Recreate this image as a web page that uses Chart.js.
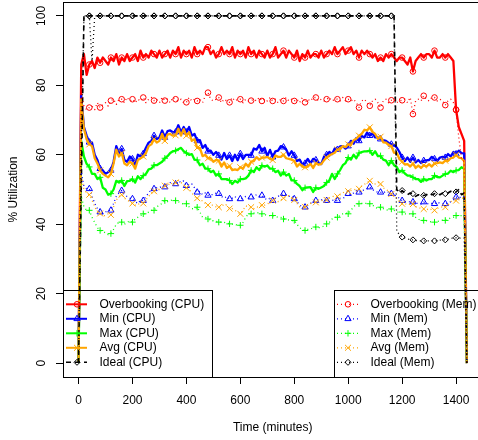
<!DOCTYPE html>
<html>
<head>
<meta charset="utf-8">
<script src="https://cdn.jsdelivr.net/npm/chart.js@4.4.0/dist/chart.umd.min.js"></script>
<style>
  html, body { margin: 0; padding: 0; background: #fff; overflow: hidden; }
  #wrap { width: 478px; height: 440px; overflow: hidden; }
</style>
</head>
<body>
<div id="wrap"><canvas id="chart" width="486" height="440"></canvas></div>
<script>
// one sample every 10 minutes, 0..1440
const ovCpu = [
  0, 86, 89, 83, 86, 87, 85, 88, 86.5, 88,
  87, 86, 88, 87, 89, 86, 88, 87, 89, 87,
  88, 89, 87, 90, 88, 89, 88, 90, 89, 88,
  90, 88, 89, 90, 88, 90, 89, 91, 88, 90,
  89, 90, 88, 91, 89, 90, 89, 91, 91, 89,
  90, 88, 89, 91, 89, 90, 89, 91, 88, 90,
  89, 90, 88, 91, 89, 90, 88, 90, 89, 88,
  90, 88, 89, 91, 88, 89, 90, 88, 90, 89,
  88, 90, 87, 89, 88, 90, 88, 89, 89, 88,
  90, 88, 89, 90, 89, 91, 89, 90, 91, 89,
  90, 91, 89, 90, 88, 90, 89, 90, 89, 88,
  89, 87, 88, 87, 89, 88, 89, 88, 87, 88,
  88, 87, 86, 88, 84, 87, 88, 89, 88, 89,
  89, 88, 90, 88, 88, 89, 88, 89, 88, 87,
  73, 68, 66, 64, 0
];
const minCpu = [
  0, 77, 68, 65.5, 63.6, 63.5, 60, 58.5, 56, 55.5,
  54.5, 55, 55.5, 58, 62.5, 60.5, 61.7, 58.5, 58, 59.5,
  58.8, 57, 60, 59.5, 60.3, 62, 63.5, 64, 65.5, 64.5,
  65, 67, 65, 66.8, 67, 66.5, 66.5, 68.5, 66.5, 68,
  66.5, 68, 65.5, 66, 64, 64.2, 62, 62.8, 61, 61.2,
  60, 60.8, 59.8, 58.6, 60.5, 58.8, 59.8, 58.2, 60, 58.4,
  60.3, 58.8, 60, 60, 59.8, 61.8, 61.5, 62.8, 61, 62,
  59.6, 61.4, 59.3, 61, 61.2, 62.5, 62.2, 61.5, 59.8, 61,
  59.8, 58.2, 58.6, 57.2, 57.5, 58.8, 57.5, 58.8, 58.5, 57.6,
  57.3, 59.4, 60, 60.8, 60.2, 61.8, 61.5, 62.4, 62.5, 61.8,
  62.5, 64, 63.2, 64.8, 64, 65.4, 65, 66.4, 65.5, 66.2,
  65, 65, 64.5, 64.2, 64, 63.4, 63, 62.8, 62.1, 60.8,
  59.2, 58.2, 59.2, 58, 59.2, 57.8, 58.5, 57.6, 58.3, 58.4,
  58.5, 59.4, 58.8, 58.2, 59.2, 59.4, 59.2, 60.2, 59.5, 60.8,
  60.2, 61.2, 60.5, 60.4, 0
];
const maxCpu = [
  0, 64, 59.5, 57.4, 56.5, 54.5, 54.5, 53, 53.5, 50.5,
  50, 48.5, 48.8, 50, 52.5, 52, 52.6, 51, 52.4, 52.5,
  53, 52, 53.8, 53, 54, 54.5, 55.8, 56, 57, 57,
  57.5, 58, 59, 59.6, 60.5, 61, 61.2, 61.6, 62, 61,
  60.5, 60, 60.2, 58.6, 58.5, 57, 57.4, 56, 56, 55,
  55.4, 54, 54.5, 53, 53, 53, 52.6, 51.6, 52.5, 52,
  53, 53, 53.2, 54, 55.5, 55, 56.4, 55.6, 56.9, 56.6,
  56.9, 56, 56, 55, 55.4, 54, 55, 54, 54.5, 52.6,
  52.6, 51.6, 51, 49.8, 50.5, 50.6, 50.7, 49.3, 50.5, 50.2,
  50.6, 51, 52, 52.6, 54.5, 53, 54.5, 55.6, 57, 57.6,
  59.2, 58.6, 60, 59, 60.5, 60.8, 61, 61, 61.2, 60,
  61, 59.6, 59.7, 58.6, 58.3, 57, 58.3, 57, 56.5, 55,
  55.5, 54.6, 54, 54, 53.5, 53, 53, 52.2, 53, 52.6,
  53, 53, 54, 53.6, 53.5, 54, 54.5, 54.6, 55.4, 55,
  55.5, 55.6, 56.4, 56, 0
];
const avgCpu = [
  0, 76, 67.5, 64.5, 63, 62.5, 59, 57.5, 55.5, 54.5,
  54, 53.5, 54.5, 57.5, 61.5, 59.5, 60.5, 57.5, 57, 58,
  57.5, 56, 58.5, 59, 59.5, 60.5, 62.5, 63, 64.5, 63.5,
  64, 66, 64, 65.8, 66, 65.5, 65.6, 67.5, 65.5, 67.4,
  65.5, 66.5, 64, 64.5, 62, 62, 59.6, 60, 59, 59,
  58, 58.5, 58.3, 56.6, 57.8, 56.2, 56.8, 55.6, 55.8, 55.6,
  56.4, 56, 57.4, 56.6, 58, 58.2, 59.3, 58.6, 59.2, 59.2,
  59.4, 58.8, 58.5, 59.8, 59.4, 59.4, 60, 59, 58.8, 58.6,
  58.2, 56.6, 57.4, 56.6, 56.4, 56.6, 57.4, 56.2, 57.6, 57.2,
  57.3, 58.4, 59.2, 59.8, 60.2, 60.6, 61.5, 61.6, 62.5, 62.2,
  63, 62.8, 64.2, 64.6, 65.5, 66, 67.2, 67, 67.9, 66.6,
  66, 64.6, 65.2, 63.6, 63.5, 62.8, 62.5, 60.6, 60.5, 58.8,
  58, 57.2, 57.3, 56.6, 57.5, 56.2, 56.9, 56.2, 57, 56.6,
  57.3, 56.6, 57.5, 57.6, 57.8, 57.6, 58.3, 58.2, 59, 59.2,
  60, 59.2, 59, 58.2, 0
];
const idealCpu = [
  0, 50, 100, 100, 100, 100, 100, 100, 100, 100,
  100, 100, 100, 100, 100, 100, 100, 100, 100, 100,
  100, 100, 100, 100, 100, 100, 100, 100, 100, 100,
  100, 100, 100, 100, 100, 100, 100, 100, 100, 100,
  100, 100, 100, 100, 100, 100, 100, 100, 100, 100,
  100, 100, 100, 100, 100, 100, 100, 100, 100, 100,
  100, 100, 100, 100, 100, 100, 100, 100, 100, 100,
  100, 100, 100, 100, 100, 100, 100, 100, 100, 100,
  100, 100, 100, 100, 100, 100, 100, 100, 100, 100,
  100, 100, 100, 100, 100, 100, 100, 100, 100, 100,
  100, 100, 100, 100, 100, 100, 100, 100, 100, 100,
  100, 100, 100, 100, 100, 100, 100, 100, 50, 49,
  49.7, 49, 48.5, 49, 48.8, 48, 48.5, 48, 48.3, 48.5,
  49, 48.5, 48.8, 49, 48.5, 49, 48.8, 49, 49.5, 49,
  49.3, 50, 48.5, 49, 0
];
const ovMem = [
  0, 78, 74, 73, 73.6, 74, 73, 75, 73.6, 74.5,
  75, 74, 75.6, 76, 74.5, 76, 76, 75, 76.5, 75.5,
  76, 75, 76, 75.5, 76.5, 75, 76, 76.5, 75.6, 76,
  75, 76.5, 75.6, 76, 75, 76.5, 76, 75.5, 76, 75,
  75.1, 76.5, 75.5, 76, 75.5, 76, 75, 77, 77.9, 76,
  75.5, 76, 76.5, 75, 76, 75.5, 75.1, 76.5, 75.5, 76,
  76, 75, 76, 75.5, 75.6, 76, 75.5, 76.5, 75.5, 76,
  75.5, 76.5, 75.5, 76, 75, 76, 75.5, 76.5, 75.5, 76,
  75.5, 76, 75, 76.5, 75.1, 76, 75.5, 76.5, 76.5, 75.5,
  76, 75.5, 76, 76.5, 75.5, 76, 76, 75.5, 76.5, 75.5,
  76, 75.5, 76, 75, 73.6, 75.5, 76, 75, 74.1, 75.5,
  76, 75, 73.6, 75.5, 76, 75, 75.7, 76, 75, 75.5,
  75.7, 76, 75, 76.5, 71.7, 75.5, 76, 75.5, 77, 76,
  75.5, 76.5, 76.5, 75.5, 76, 75.5, 74.3, 75.5, 76, 75,
  72.9, 65, 59, 58, 0
];
const minMem = [
  0, 55, 51, 50.2, 50.2, 48, 46, 44.5, 43.5, 43,
  43.5, 44, 44, 46, 48, 49, 49.7, 48.5, 48, 47.5,
  47.3, 46.5, 46, 47, 46.8, 48, 49, 50, 50.2, 50.5,
  50.5, 51, 50.7, 51.5, 52, 51.5, 51.6, 52.5, 52, 52.5,
  51.1, 51.5, 51.6, 50.5, 49.2, 49.5, 48.5, 49, 48.3, 48.5,
  48.5, 49, 48.8, 48, 47.5, 48, 47.3, 47.5, 48, 47,
  47.3, 47.5, 48, 47.5, 47.8, 48, 48.5, 48, 48.3, 47.5,
  47, 47.5, 46.8, 47.5, 48, 48.5, 48.8, 48.5, 48, 48.2,
  47.3, 46.5, 45.5, 45, 44.9, 45.5, 46, 46.5, 46.8, 46.5,
  47, 47, 46.8, 46.5, 47, 46.8, 46.8, 47.5, 47.5, 47.8,
  48.8, 48.5, 49, 49.7, 49.2, 49.5, 50, 50.2, 50.7, 50,
  49.5, 49.2, 49.2, 49, 49.5, 49.2, 48.8, 48.5, 48, 47.5,
  46.8, 46.5, 46.4, 46.5, 46.4, 46, 46, 45.8, 46.4, 46,
  45.8, 46, 45.9, 46.4, 46, 45.8, 45.9, 46, 46.5, 47,
  47.8, 47.5, 48, 48, 0
];
const maxMem = [
  0, 48, 45, 44, 44, 42, 40.5, 39, 38.2, 38,
  37.5, 37, 37.3, 38.5, 40, 40.5, 40.6, 40, 40.5, 41,
  40.6, 41.5, 42, 42.5, 43, 43, 43.5, 44, 44, 45,
  45.5, 46, 46.8, 46.5, 46.8, 47, 46.8, 46.5, 46, 45.8,
  45.9, 45, 44.5, 44.4, 44.9, 43.5, 42, 42, 41.5, 41,
  41, 40.8, 40.6, 40.6, 40.5, 40.3, 40.1, 40, 40, 39.6,
  39.7, 40.5, 42, 43, 43, 43.2, 43.4, 43.2, 43, 42.8,
  42.5, 42.5, 42.5, 42.2, 42, 42, 41.5, 41.5, 41.2, 41,
  41.1, 40, 39, 38.5, 38.2, 38.5, 38.6, 39, 39.2, 39,
  39.1, 39.5, 40.1, 40.5, 41.5, 42, 42, 42.5, 43, 43.2,
  43, 44, 45, 45.8, 45.9, 46, 46, 46, 45.9, 45.5,
  45, 44.4, 44.9, 44.5, 44.2, 44, 44.4, 44, 43.5, 43.5,
  43.5, 43, 43, 43, 43, 42, 41.5, 41, 41.1, 41,
  40.8, 40.6, 40.6, 40.8, 41, 41.2, 41.1, 41.5, 41.8, 42,
  42.5, 42.5, 42.5, 42.5, 0
];
const avgMem = [
  0, 54, 50, 49, 48.5, 47, 45, 43.5, 43.1, 42.5,
  42.5, 43, 42.7, 45, 47, 48, 48.5, 47.5, 47, 46.5,
  46, 45.5, 45.5, 46.5, 46, 47, 48, 49, 49.5, 50,
  50, 50.5, 51.1, 51, 52, 51.5, 52, 52.6, 52, 51.5,
  50.5, 50, 49, 48, 47.5, 46.8, 46.8, 46, 45.5, 45.5,
  45.5, 45, 44.9, 45, 45.9, 45.5, 44.5, 44.5, 44, 43.5,
  43, 44, 45.3, 45, 44.9, 44.5, 45, 44.9, 45.5, 45.5,
  46, 45.9, 46.8, 47, 46.5, 47, 47.5, 48, 48.2, 47.5,
  47, 46, 45, 44.9, 45, 45.5, 46, 46.3, 46.3, 46.5,
  46.8, 47, 47, 47.5, 47.8, 48.3, 48, 48.5, 49, 49.5,
  49.5, 49.7, 49.8, 50.2, 50.2, 51, 51.5, 52, 52.5, 52,
  51.6, 52.1, 51.6, 50.5, 50, 49.5, 48.7, 48, 47.5, 46.5,
  45.9, 46, 45.5, 45.8, 45.8, 45, 44.9, 44.5, 44.4, 44.5,
  44, 44.4, 44, 44.5, 44.9, 45, 44.9, 45.5, 46.5, 46.8,
  46.8, 47, 47.5, 47.5, 0
];
const idealMem = [
  0, 60, 100, 100, 100, 87, 100, 100, 100, 100,
  100, 100, 100, 100, 100, 100, 100, 100, 100, 100,
  100, 100, 100, 100, 100, 100, 100, 100, 100, 100,
  100, 100, 100, 100, 100, 100, 100, 100, 100, 100,
  100, 100, 100, 100, 100, 100, 100, 100, 100, 100,
  100, 100, 100, 100, 100, 100, 100, 100, 100, 100,
  100, 100, 100, 100, 100, 100, 100, 100, 100, 100,
  100, 100, 100, 100, 100, 100, 100, 100, 100, 100,
  100, 100, 100, 100, 100, 100, 100, 100, 100, 100,
  100, 100, 100, 100, 100, 100, 100, 100, 100, 100,
  100, 100, 100, 100, 100, 100, 100, 100, 100, 100,
  100, 100, 100, 100, 100, 100, 100, 100, 38, 37,
  36.3, 36, 35.8, 35.5, 35.5, 35.3, 35.2, 35.2, 35.2, 35.2,
  35.2, 35.2, 35.2, 35.3, 35.4, 35.5, 35.5, 35.7, 35.9, 36,
  36.1, 36, 36, 36, 0
];
const minutes = ovCpu.map((_, i) => i * 10);

const xTicks = [0, 200, 400, 600, 800, 1000, 1200, 1400];
const yTicks = [0, 20, 40, 60, 80, 100];

const FONT = "12px 'Liberation Sans', Arial, sans-serif";
Chart.defaults.font.family = "'Liberation Sans', Arial, sans-serif";
Chart.defaults.font.size = 12;
Chart.defaults.color = '#000';

// a marker every 40 minutes, like the R plot
function markerRadius(r) {
  return ctx => (ctx.dataIndex % 4 === 0 && ctx.dataIndex >= 4 && ctx.dataIndex <= 140) ? r : 0;
}

function series(label, values, color, style, radius, dash, width, order) {
  return {
    label: label,
    data: values.map((v, i) => ({ x: minutes[i], y: v })),
    borderColor: color,
    backgroundColor: 'rgba(0,0,0,0)',
    borderWidth: width,
    borderDash: dash,
    borderJoinStyle: 'round',
    pointStyle: style,
    pointRadius: markerRadius(radius),
    pointBorderColor: color,
    pointBackgroundColor: 'rgba(0,0,0,0)',
    pointBorderWidth: 1,
    tension: 0,
    fill: false,
    order: order
  };
}

const datasets = [
  series('Overbooking (CPU)', ovCpu, '#ff0000', 'circle', 2.8, [], 2.3, 10),
  series('Min (CPU)', minCpu, '#0000ff', 'triangle', 3.6, [], 2.3, 9),
  series('Max (CPU)', maxCpu, '#00ff00', 'cross', 3.2, [], 2.3, 8),
  series('Avg (CPU)', avgCpu, '#ffa500', 'crossRot', 4.2, [], 2.3, 7),
  series('Ideal (CPU)', idealCpu, '#000000', 'rectRot', 3, [5, 4], 1.6, 6),
  series('Overbooking (Mem)', ovMem, '#ff0000', 'circle', 2.8, [1, 3], 1.3, 5),
  series('Min (Mem)', minMem, '#0000ff', 'triangle', 3.6, [1, 3], 1.3, 4),
  series('Max (Mem)', maxMem, '#00ff00', 'cross', 3.2, [1, 3], 1.3, 3),
  series('Avg (Mem)', avgMem, '#ffa500', 'crossRot', 4.2, [1, 3], 1.3, 2),
  series('Ideal (Mem)', idealMem, '#000000', 'rectRot', 3, [1, 3], 1.3, 1)
];

const frame = {
  id: 'frame',
  afterDatasetsDraw(chart) {
    const { ctx, chartArea: a } = chart;
    ctx.save();
    ctx.strokeStyle = '#000';
    ctx.lineWidth = 1;
    ctx.strokeRect(Math.round(a.left) + 0.5, Math.round(a.top) + 0.5,
      Math.round(a.right - a.left), Math.round(a.bottom - a.top));
    ctx.restore();
  }
};

// R draws the y labels turned a quarter, centred on each tick
const yLabels = {
  id: 'yLabels',
  afterDraw(chart) {
    const { ctx } = chart;
    const s = chart.scales.y;
    ctx.save();
    ctx.font = FONT;
    ctx.fillStyle = '#000';
    ctx.textAlign = 'center';
    ctx.textBaseline = 'middle';
    yTicks.forEach(v => {
      ctx.save();
      ctx.translate(41.4, s.getPixelForValue(v));
      ctx.rotate(-Math.PI / 2);
      ctx.fillText(String(v), 0, 0);
      ctx.restore();
    });
    ctx.restore();
  }
};

// two R-style legends, bottom left and bottom right inside the plot
const boxLegends = {
  id: 'boxLegends',
  afterDatasetsDraw(chart) {
    const { ctx, chartArea: a } = chart;
    const groups = [
      { items: [0, 1, 2, 3, 4], left: Math.round(a.left), width: 149 },
      { items: [5, 6, 7, 8, 9], left: Math.round(a.right) - 148, width: 148 }
    ];
    const bottom = Math.round(a.bottom);
    ctx.save();
    groups.forEach(g => {
      ctx.strokeStyle = '#000';
      ctx.lineWidth = 1;
      ctx.setLineDash([]);
      ctx.strokeRect(g.left + 0.5, bottom - 87 + 0.5, g.width, 87);
      g.items.forEach((di, k) => {
        const ds = chart.data.datasets[di];
        const y = bottom - 72.7 + k * 14.5;
        ctx.strokeStyle = ds.borderColor;
        ctx.lineWidth = Math.min(ds.borderWidth, 2);
        ctx.setLineDash(ds.borderDash);
        ctx.beginPath();
        ctx.moveTo(g.left + 3, y);
        ctx.lineTo(g.left + 24, y);
        ctx.stroke();
        ctx.setLineDash([]);
        ctx.lineWidth = 1;
        ctx.fillStyle = 'rgba(0,0,0,0)';
        Chart.helpers.drawPoint(ctx, {
          pointStyle: ds.pointStyle,
          radius: ds.pointRadius({ dataIndex: 4 }),
          rotation: 0,
          borderWidth: 1
        }, g.left + 14, y);
        ctx.fillStyle = '#000';
        ctx.font = FONT;
        ctx.textAlign = 'left';
        ctx.textBaseline = 'middle';
        ctx.fillText(ds.label, g.left + 36.5, y);
      });
    });
    ctx.restore();
  }
};

new Chart(document.getElementById('chart'), {
  type: 'line',
  data: { datasets: datasets },
  options: {
    responsive: false,
    animation: false,
    events: [],
    layout: { padding: { left: 0, top: 2, right: 3.6, bottom: 0 } },
    plugins: { legend: { display: false }, tooltip: { enabled: false } },
    scales: {
      x: {
        type: 'linear',
        min: -57.6,
        max: 1497.6,
        afterBuildTicks: s => { s.ticks = xTicks.map(v => ({ value: v })); },
        afterFit: s => { s.height = 63; },
        grid: { drawOnChartArea: false, drawTicks: true, tickLength: 7, color: '#000' },
        border: { display: false },
        ticks: { padding: 9, maxRotation: 0, autoSkip: false, callback: v => String(v) },
        title: { display: true, text: 'Time (minutes)', padding: { top: 0, bottom: 5 } }
      },
      y: {
        type: 'linear',
        min: -4,
        max: 104,
        afterBuildTicks: s => { s.ticks = yTicks.map(v => ({ value: v })); },
        afterFit: s => { s.width = 63; },
        grid: { drawOnChartArea: false, drawTicks: true, tickLength: 7, color: '#000' },
        border: { display: false },
        ticks: { display: false },
        title: { display: true, text: '% Utilization', padding: { top: 6, bottom: 0 } }
      }
    }
  },
  plugins: [frame, boxLegends, yLabels]
});
</script>
</body>
</html>
